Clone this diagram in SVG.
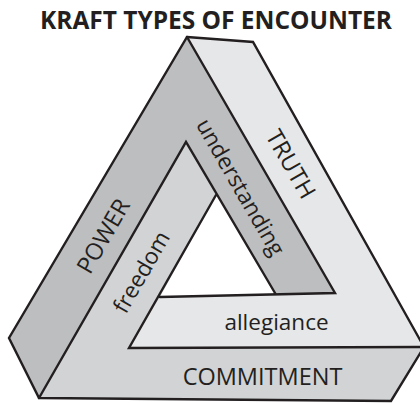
<svg xmlns="http://www.w3.org/2000/svg" width="420" height="403" viewBox="0 0 420 403">
<style>
.edge{fill:none;stroke:#231f20;stroke-width:2.4;stroke-linejoin:miter;stroke-linecap:round}
.dark{fill:#bcbec0}
.mid{fill:#d1d3d4}
.light{fill:#e6e7e8}
.lbl{font-family:"Open Sans","Liberation Sans",sans-serif;font-size:22.5px;fill:#231f20;text-anchor:middle}
.cap{font-size:23.5px}
.title{font-family:"Open Sans","Liberation Sans",sans-serif;font-size:24.5px;font-weight:bold;fill:#231f20;text-anchor:middle}
</style>
<rect width="420" height="403" fill="#ffffff"/>
<g id="title"><text class="title" x="216" y="29" textLength="352" lengthAdjust="spacing">KRAFT TYPES OF ENCOUNTER</text></g>
<g id="penrose-triangle">
<polygon class="light" points="187,37 253,42 424,347 129,348 160,297 335,293"/>
<polygon class="mid" points="186,142 216,195 160,297 129,348 424,347 391,401 39,398"/>
<polygon class="dark" points="187,37 335,293 275,293 186,142 39,398 9,338"/>
</g>
<g id="connectors">
<path class="edge" d="M187,37 L253,42 L424,347 L391,401 L39,398 L9,338 Z"/>
<path class="edge" d="M187,37 L335,293 L160,297 M275,293 L186,142 L39,398 M216,195 L129,348 L424,347"/>
</g>
<g id="node-truth"><text class="lbl cap" transform="translate(291,164) rotate(60)" y="8.5">TRUTH</text></g>
<g id="node-understanding"><text class="lbl" transform="translate(239,188) rotate(60)" y="6">understanding</text></g>
<g id="node-power"><text class="lbl cap" transform="translate(103,236) rotate(-60)" y="8.5">POWER</text></g>
<g id="node-freedom"><text class="lbl" transform="translate(143,273) rotate(-60)" y="6">freedom</text></g>
<g id="node-allegiance"><text class="lbl" x="276.5" y="330">allegiance</text></g>
<g id="node-commitment"><text class="lbl cap" x="262.5" y="385">COMMITMENT</text></g>
</svg>
